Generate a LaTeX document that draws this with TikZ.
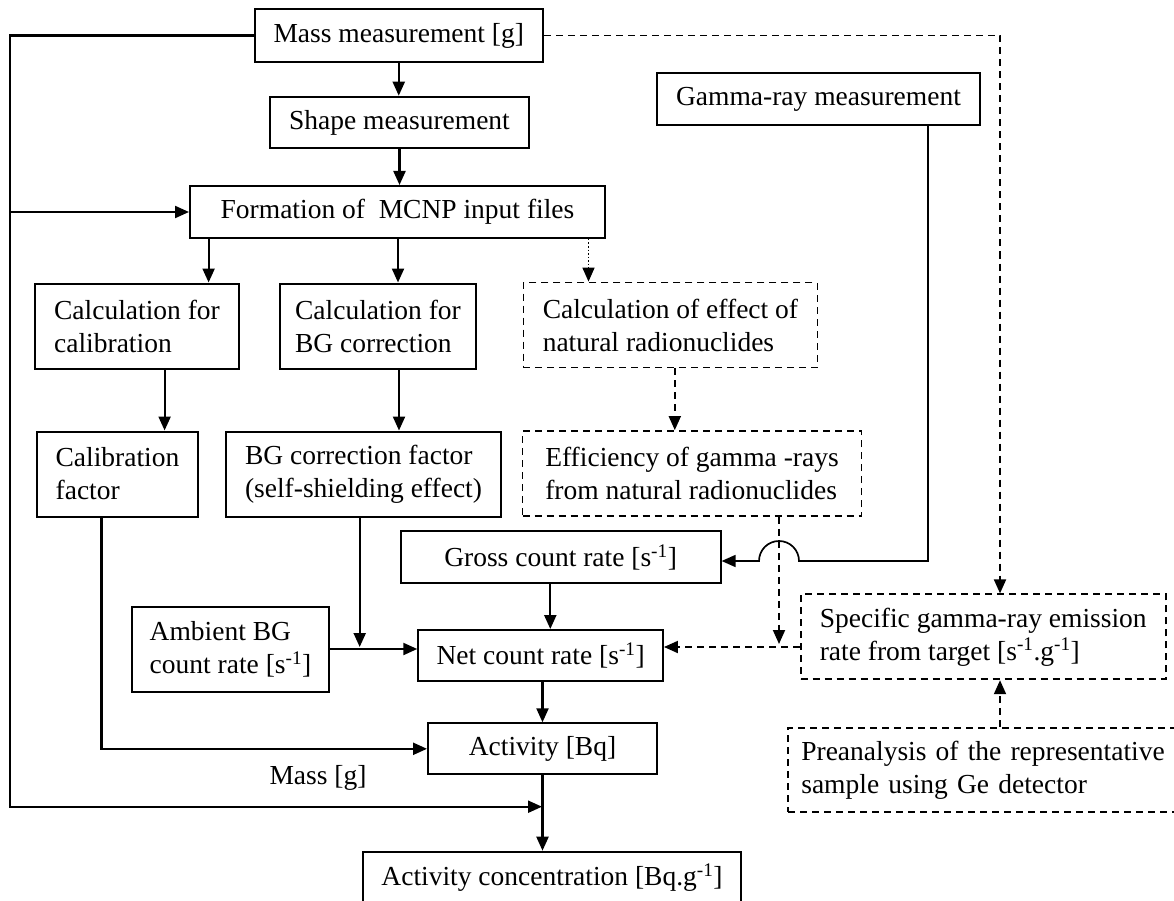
\documentclass[tikz,border=0pt]{standalone}
\usepackage{fontspec}
\setmainfont{Liberation Serif}
\usetikzlibrary{arrows.meta}
\newcommand\fsz{\fontsize{27.5}{33}\selectfont}
\newcommand\inv{\textsuperscript{-1}}
\begin{document}
\begin{tikzpicture}[x=1pt,y=-1pt,
  box/.style={draw, line width=2pt, inner sep=0pt, align=left, font=\fsz},
  dbox/.style={box, line width=1.8pt, dash pattern=on 7pt off 5pt},
  arr/.style={line width=2.2pt, -{Triangle[length=14pt,width=12pt]}},
  darr/.style={line width=1.9pt, dash pattern=on 7pt off 5pt, -{Triangle[length=14pt,width=12pt]}},
  dotarr/.style={line width=1.6pt, dash pattern=on 1.5pt off 2pt, -{Triangle[length=14pt,width=12pt]}},
  thinarr/.style={line width=1.7pt, -{Triangle[length=14pt,width=12pt]}}]
\useasboundingbox (0,0) rectangle (1174,901);

% nodes
\node[box, minimum width=288.5pt, minimum height=52.4pt] (mass) at (398.75,35.5) {Mass measurement [g]};
\node[box, minimum width=259pt, minimum height=51.6pt] (shape) at (399.5,122.5) {Shape measurement};
\node[box, minimum width=415pt, minimum height=52pt] (form) at (397.5,212) {Formation of\ \ MCNP input files};
\node[box, minimum width=323pt, minimum height=52pt] (gm) at (818.5,99) {Gamma-ray measurement};
\node[box, minimum width=204pt, minimum height=85pt] (calcal) at (137,326) {Calculation for\\calibration};
\node[box, minimum width=196.5pt, minimum height=85pt] (calbg) at (378,326) {Calculation for\\BG correction};
\node[dbox, minimum width=294pt, minimum height=85pt] (calnat) at (670.4,325) {Calculation of effect of\\natural radionuclides};
\node[box, minimum width=161pt, minimum height=85pt] (calf) at (117.5,474) {Calibration\\factor};
\node[box, minimum width=275.5pt, minimum height=85pt] (bgf) at (363.5,474) {BG correction factor\\(self-shielding effect)};
\node[dbox, minimum width=339pt, minimum height=85pt] (eff) at (692,473.5) {Efficiency of gamma -rays\\from natural radionuclides};
\node[box, minimum width=320pt, minimum height=51.6pt] (gross) at (560.6,557) {Gross count rate [s\inv]};
\node[box, minimum width=197pt, minimum height=85pt] (amb) at (230.5,649) {Ambient BG\\count rate [s\inv]};
\node[box, minimum width=244.7pt, minimum height=51pt] (net) at (540.6,655.5) {Net count rate [s\inv]};
\node[dbox, minimum width=365pt, minimum height=85pt] (spec) at (983.2,636.8) {Specific gamma-ray emission\\rate from target [s\inv.g\inv]};
\node[box, minimum width=229pt, minimum height=51pt] (act) at (542.5,748.8) {Activity [Bq]};
\node[dbox, minimum width=392pt, minimum height=84.6pt, text width=366pt] (pre) at (984.3,770) {Preanalysis of the representative\\sample using Ge detector};
\node[box, minimum width=378.5pt, minimum height=52pt] (actc) at (552,877.7) {Activity concentration [Bq.g\inv]};
\node[font=\fsz, inner sep=0pt] (massg) at (318,778) {Mass [g]};

% helper coordinates
\coordinate (lx) at (10,0);
\coordinate (mj) at (542,806.7);
\coordinate (a1) at (208.6,0);
\coordinate (a2) at (398,0);
\coordinate (a3) at (588.5,0);
\coordinate (a4) at (164.6,0);
\coordinate (a5) at (399,0);
\coordinate (a6) at (674.8,0);
\coordinate (b1) at (101.4,0);
\coordinate (b2) at (359.7,0);
\coordinate (c1) at (550.3,0);
\coordinate (c2) at (542.5,0);
\coordinate (gx) at (928,0);
\coordinate (jr) at (799,561);
\coordinate (dx) at (779,0);
\coordinate (sn) at (0,647);
\coordinate (rx) at (1000,0);

% connectors
\draw[arr] (mass.south) -- (mass.south |- shape.north);
\draw[arr] (shape.south) -- (shape.south |- form.north);
\draw[arr] (mass.west) -| (lx |- mj) -- (mj);
\draw[arr] (lx |- form.west) -- (form.west);
\draw[arr] (form.south -| a1) -- (calcal.north -| a1);
\draw[arr] (form.south -| a2) -- (calbg.north -| a2);
\draw[dotarr] (form.south -| a3) -- (calnat.north -| a3);
\draw[arr] (calcal.south -| a4) -- (calf.north -| a4);
\draw[arr] (calbg.south -| a5) -- (bgf.north -| a5);
\draw[darr] (calnat.south -| a6) -- (eff.north -| a6);
\draw[arr] (calf.south -| b1) |- (act.west);
\draw[arr, shorten >=2pt] (bgf.south -| b2) -- (b2 |- amb.east);
\draw[arr] (amb.east) -- (amb.east -| net.west);
\draw[arr] (gross.south -| c1) -- (net.north -| c1);
\draw[arr] (net.south -| c2) -- (act.north -| c2);
\draw[arr] (act.south) -- (act.south |- actc.north);
\draw[thinarr] (gm.south -| gx) -- (gx |- jr) -- (jr) arc[start angle=0, end angle=180, radius=20pt] -- (gross.east |- jr);
\draw[darr, shorten >=3pt] (eff.south -| dx) -- (dx |- sn);
\draw[darr] (spec.west |- sn) -- (net.east |- sn);
\draw[darr] (mass.east) -| (spec.north -| rx);
\draw[darr] (pre.north -| rx) -- (spec.south -| rx);
\end{tikzpicture}
\end{document}
